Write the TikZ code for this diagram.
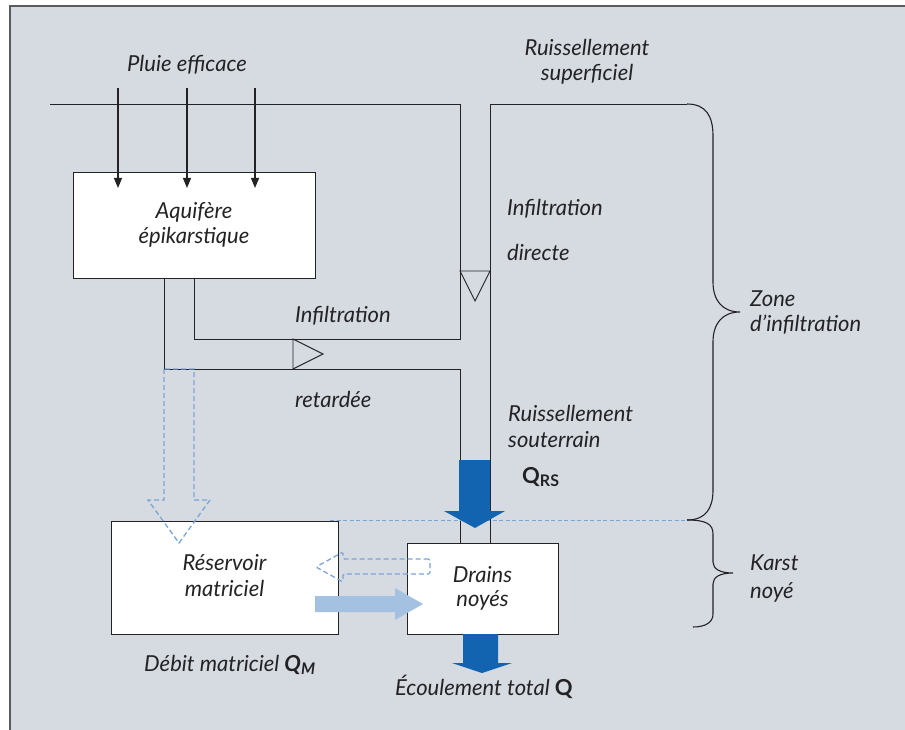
\documentclass[tikz,border=0pt]{standalone}
\usepackage{fontspec}
\setmainfont{Lato}
\usetikzlibrary{arrows.meta}
\definecolor{bg}{RGB}{214,218,225}
\definecolor{frame}{RGB}{90,90,95}
\definecolor{ink}{RGB}{35,35,38}
\definecolor{dblue}{RGB}{18,100,176}
\definecolor{lblue}{RGB}{164,193,225}
\definecolor{dashblue}{RGB}{122,165,214}
\tikzset{
  txt/.style={font=\fontsize{22}{25}\selectfont\itshape, text=ink, inner sep=0pt},
  boxn/.style={draw=ink, fill=white, line width=0.9pt, inner sep=0pt},
  wire/.style={draw=ink, line width=0.9pt},
  rain/.style={draw=ink, line width=1.2pt, -{Triangle[width=8pt,length=10pt]}},
  dashed arrow/.style={draw=dashblue, line width=1.3pt, dash pattern=on 5pt off 3pt},
}
\begin{document}
\begin{tikzpicture}[x=1pt,y=-1pt]
\useasboundingbox (0,0) rectangle (905,730);
\fill[bg] (10,6) rectangle (905,730);
\draw[frame, line width=1.3pt] (10,730) -- (10,6) -- (905,6);

% boxes
\node[boxn, minimum width=242pt, minimum height=106pt] (aq) at (194,225) {};
\node[txt, align=center] (aqt) at (194,225) {Aquifère\\épikarstique};
\node[boxn, minimum width=227pt, minimum height=113pt] (res) at (224.5,577.5) {};
\node[txt, align=center] (rest) at (224.5,576) {Réservoir\\[1pt]matriciel};
\node[boxn, minimum width=151pt, minimum height=91pt] (dr) at (482.5,588.5) {};
\node[txt, align=center] (drt) at (482.5,588) {Drains\\[-1pt]noyés};

% coordinates
\coordinate (tl) at (50,104);
\coordinate (ta) at (460,104);
\coordinate (tb) at (490,104);
\coordinate (tc) at (687,104);
\coordinate (a1) at (194,278);
\coordinate (a1b) at (194,339);
\coordinate (c1) at (460,339);
\coordinate (a2) at (164,278);
\coordinate (a2b) at (164,369);
\coordinate (c2) at (460,369);
\coordinate (d1) at (460,543);
\coordinate (d2) at (490,543);

% surface line and channels
\draw[wire] (tl) -- (ta) -- (c1) -- (a1b) -- (a1);
\draw[wire] (a2) -- (a2b) -- (c2) -- (d1);
\draw[wire] (d2) -- (tb) -- (tc);

% valves
\draw[wire] (460,271) -- (490,271) -- (475,301) -- cycle;
\draw[wire] (293,339) -- (293,369) -- (323,354) -- cycle;

% rain arrows
\node[txt] (pluie) at (187,65) {Pluie efficace};
\coordinate (r1) at (118,88); \coordinate (r1e) at (118,188);
\coordinate (r2) at (187,88); \coordinate (r2e) at (187,188);
\coordinate (r3) at (255,88); \coordinate (r3e) at (255,188);
\draw[rain] (r1) -- (r1e);
\draw[rain] (r2) -- (r2e);
\draw[rain] (r3) -- (r3e);

% braces
\draw[ink, line width=1.1pt] (687,104) .. controls (706,104) and (713,116) .. (713,136) -- (713,282)
  .. controls (713,300) and (722,312) .. (740,312) .. controls (722,312) and (713,324) .. (713,342)
  -- (713,490) .. controls (713,508) and (706,520) .. (687,520);
\draw[ink, line width=1.1pt] (687,520) .. controls (706,520) and (713,524) .. (713,534) -- (713,562)
  .. controls (713,569) and (720,573) .. (733,573) .. controls (720,573) and (713,577) .. (713,584)
  -- (713,614) .. controls (713,622) and (706,627) .. (693,627);

% dashed level line
\coordinate (lv1) at (330,520); \coordinate (lv2) at (687,520);
\draw[dashed arrow, line width=1pt, dash pattern=on 4pt off 2.5pt] (lv1) -- (lv2);

% dark blue arrows
\fill[dblue] (459,460) -- (490,460) -- (490,511) -- (505,511) -- (475,528) -- (444,511) -- (459,511) -- cycle;
\fill[dblue] (463,634) -- (498,634) -- (498,663) -- (512,663) -- (482,673) -- (452,663) -- (463,663) -- cycle;

% light blue arrow
\fill[lblue] (315,596) -- (395,596) -- (395,588) -- (423,604) -- (395,620) -- (395,612) -- (315,612) -- cycle;

% dashed hollow arrows
\draw[dashed arrow] (164,369) -- (164,500) -- (148,500) -- (179,543) -- (210,500) -- (194,500) -- (194,369) -- cycle;
\draw[dashed arrow, rounded corners=1.5pt] (430,559) -- (343,559) -- (343,552) -- (316,567) -- (343,582) -- (343,574) -- (430,574) -- cycle;

% labels
\node[txt, anchor=west] (inf1) at (295,316) {Infiltration};
\node[txt, anchor=west] (ret) at (295,399) {retardée};
\node[txt, anchor=west] (inf2) at (507,209) {Infiltration};
\node[txt, anchor=west] (dir) at (507,252) {directe};
\node[txt, align=center] (rsup) at (587,62) {Ruissellement\\superficiel};
\node[txt, align=left, anchor=west] (zone) at (750,312) {Zone\\d’infiltration};
\node[txt, align=left, anchor=west] (rsou) at (508,426) {Ruissellement\\[1pt]souterrain};
\node[txt, anchor=west, font=\fontsize{22}{25}\selectfont\bfseries] (qrs) at (522,477) {Q\raisebox{-3pt}{\fontsize{16}{18}\selectfont RS}};
\node[txt, align=left, anchor=west] (karst) at (750,579) {Karst\\[3pt]noyé};
\node[txt, anchor=west] (debit) at (144,665) {Débit matriciel \textbf{Q\raisebox{-3pt}{\fontsize{16}{18}\selectfont M}}};
\node[txt, anchor=west] (ecoul) at (395,687) {Écoulement total \textbf{\upshape Q}};
\end{tikzpicture}
\end{document}
